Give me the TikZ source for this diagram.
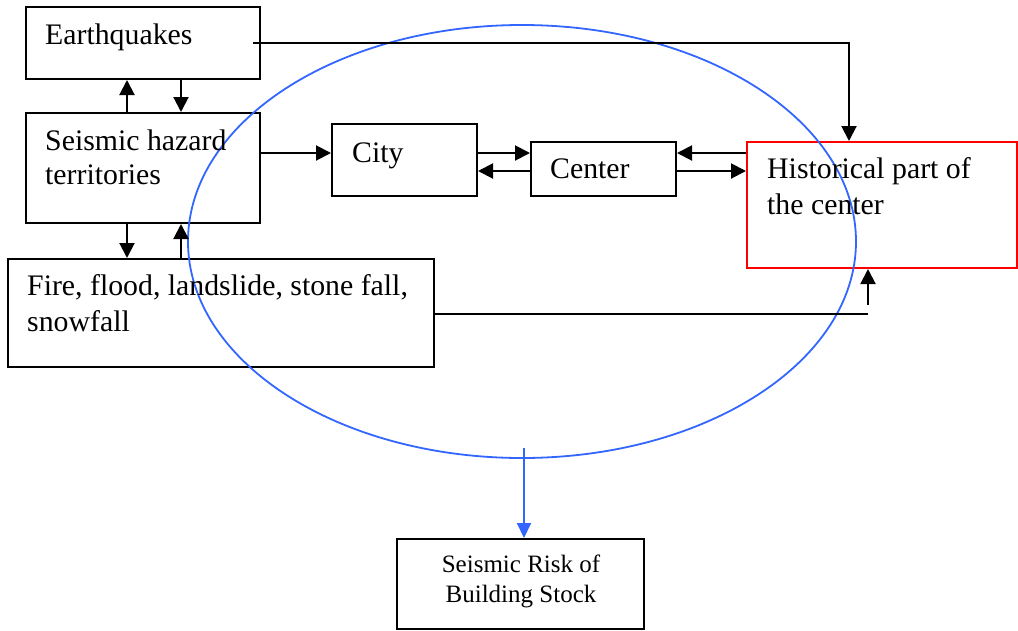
\documentclass[tikz,border=0pt]{standalone}
\usepackage{fontspec}
\setmainfont{Liberation Serif}
\usetikzlibrary{arrows.meta,calc}
\definecolor{ellblue}{RGB}{51,102,255}
\definecolor{boxred}{RGB}{255,0,0}
\tikzset{
  box/.style={draw=black, line width=2pt, inner sep=0pt, minimum width=#1},
  redbox/.style={draw=boxred, line width=2pt, inner sep=0pt},
  txt/.style={anchor=base west, inner sep=0pt, font=\fontsize{29.8}{36}\selectfont},
  smalltxt/.style={anchor=base, inner sep=0pt, font=\fontsize{25}{30}\selectfont},
  arr/.style={line width=2pt, -{Triangle[length=15pt,width=15pt]}},
  plain/.style={line width=2pt},
  bluearr/.style={draw=ellblue, line width=2pt, -{Triangle[length=15pt,width=14pt]}, color=ellblue},
  ell/.style={draw=ellblue, line width=1.8pt}
}
\begin{document}
\begin{tikzpicture}[x=1pt,y=-1pt]
\useasboundingbox (0,0) rectangle (1018,630);
% boxes
\node[box=234pt, minimum height=72pt] (eq) at (143,43) {};
\node[box=234pt, minimum height=110pt] (seis) at (143,168) {};
\node[box=426pt, minimum height=108pt] (fire) at (221,313) {};
\node[box=145pt, minimum height=72pt] (city) at (404.5,160) {};
\node[box=145pt, minimum height=54pt] (cen) at (603.5,169) {};
\node[redbox, minimum width=270pt, minimum height=126pt] (hist) at (882,205) {};
\node[box=247pt, minimum height=90pt] (risk) at (520.5,584) {};
% ellipse
\draw[ell] (522,241.5) ellipse [x radius=334, y radius=216.5];
% texts
\node[txt] (t1) at (45,44) {Earthquakes};
\node[txt] (t2) at (45,150) {Seismic hazard};
\node[txt] (t3) at (45,184) {territories};
\node[txt] (t4) at (27,295) {Fire, flood, landslide, stone fall,};
\node[txt] (t5) at (27,331) {snowfall};
\node[txt] (t6) at (352,162) {City};
\node[txt] (t7) at (550,178) {Center};
\node[txt] (t8) at (767,178) {Historical part of};
\node[txt] (t9) at (767,214) {the center};
\node[smalltxt] (t10) at (521,572) {Seismic Risk of};
\node[smalltxt] (t11) at (521,602) {Building Stock};
% helper coordinates
\coordinate (xa) at (127,0);
\coordinate (xb) at (181,0);
\coordinate (ya) at (0,153);
\coordinate (yb) at (0,171);
\coordinate (eqs) at (253,43);
\coordinate (xe) at (849,0);
\coordinate (fl) at (868,314);
\coordinate (fa) at (868,305);
\coordinate (bs) at (524,448);
% connectors
\draw[arr] (eqs) -| (hist.north -| xe);
\draw[arr] (seis.north -| xa) -- (eq.south -| xa);
\draw[arr] (eq.south -| xb) -- (seis.north -| xb);
\draw[arr] (seis.south -| xa) -- (fire.north -| xa);
\draw[arr] (fire.north -| xb) -- (seis.south -| xb);
\draw[arr] (seis.east |- ya) -- (city.west |- ya);
\draw[arr] (city.east |- ya) -- (cen.west |- ya);
\draw[arr] (cen.west |- yb) -- (city.east |- yb);
\draw[arr] (hist.west |- ya) -- (cen.east |- ya);
\draw[arr] (cen.east |- yb) -- (hist.west |- yb);
\draw[plain] (fire.east |- fl) -- (fl);
\draw[arr] (fa) -- (hist.south -| fa);
\draw[bluearr] (bs) -- (risk.north -| bs);
\end{tikzpicture}
\end{document}
